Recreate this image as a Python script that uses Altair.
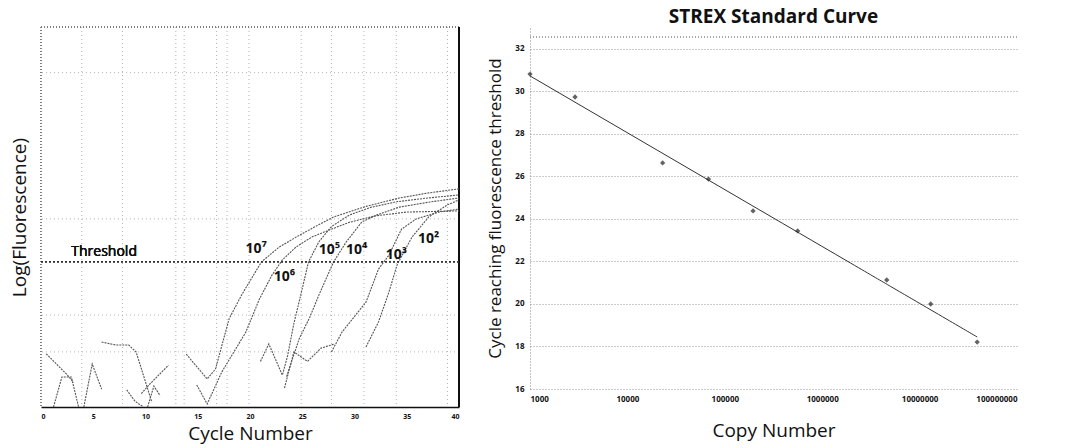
import altair as alt
import pandas as pd

FONT = "Open Sans"

# ---------------- Left panel: amplification curves ----------------
CYCLE_TICKS = [0, 5, 10, 15, 20, 25, 30, 35, 40]
THRESHOLD = 38.2

c7_cyc = [13.9, 15.9, 16.7, 18.0, 19.2, 21.1, 22.8, 24.4, 26.6, 28.0, 31.1, 34.3, 37.0, 40.0]
c7_val = [13.9, 7.4, 10.0, 23.2, 29.5, 38.2, 42.1, 44.7, 48.0, 50.0, 52.8, 55.0, 56.3, 57.4]
c6_cyc = [14.9, 15.9, 17.3, 19.6, 20.9, 22.1, 23.1, 24.4, 25.9, 27.6, 29.5, 32.0, 35.0, 40.0]
c6_val = [5.8, 0.8, 9.2, 19.7, 28.4, 34.7, 38.7, 42.1, 44.7, 46.6, 48.6, 50.3, 51.3, 51.6]
c5_cyc = [21.0, 21.8, 23.1, 23.6, 24.2, 24.9, 25.6, 26.6, 27.8, 29.5, 31.5, 34.0, 37.0, 40.0]
c5_val = [12.0, 16.6, 8.4, 13.5, 22.0, 30.0, 38.2, 43.5, 47.5, 50.5, 52.5, 54.0, 55.0, 55.8]
c4_cyc = [23.5, 24.7, 25.7, 26.6, 28.0, 29.2, 30.7, 32.1, 34.3, 37.1, 40.0]
c4_val = [8.0, 17.9, 23.5, 29.5, 38.2, 43.4, 48.7, 50.5, 52.6, 53.9, 55.0]
c3_cyc = [27.8, 28.8, 31.1, 32.3, 33.3, 34.5, 35.9, 38.1, 40.0]
c3_val = [14.5, 19.7, 27.6, 36.3, 40.0, 46.8, 49.5, 51.3, 52.1]
c2_cyc = [31.1, 32.3, 33.3, 34.1, 35.5, 37.1, 38.9, 40.0]
c2_val = [15.8, 22.4, 30.3, 37.6, 44.7, 50.0, 53.2, 54.5]

# baseline noise traces
n1_cyc = [1.2, 2.0, 2.9, 3.6]
n1_val = [0.0, 7.9, 7.9, 0.0]
n2_cyc = [4.1, 4.9, 5.8]
n2_val = [0.0, 11.3, 4.7]
n3_cyc = [0.5, 2.5, 3.1]
n3_val = [14.0, 8.5, 6.5]
n4_cyc = [5.8, 7.2, 8.4, 9.1, 10.0, 10.6]
n4_val = [17.1, 16.3, 16.3, 14.5, 6.6, 1.3]
n5_cyc = [9.6, 10.4, 11.3, 12.2]
n5_val = [3.5, 6.0, 8.5, 11.0]
n6_cyc = [8.2, 9.0, 9.8]
n6_val = [4.5, 1.5, 0.0]
n7_cyc = [10.2, 10.8, 11.4]
n7_val = [0.0, 5.5, 3.0]
n8_cyc = [23.3, 24.2, 25.5, 26.8, 28.0]
n8_val = [5.0, 14.5, 12.0, 15.5, 16.5]

GRID_CYCLES = [3.9, 7.8, 12.9, 13.7, 16.8, 17.8, 19.9, 24.9, 27.8, 30.9, 34.0, 38.9]
GRID_LEVELS = [88.0, 49.5, 24.2, 14.5]

LABEL_TEXT = ["10\u2077", "10\u2076", "10\u2075", "10\u2074", "10\u00b3", "10\u00b2"]
LABEL_CYC = [20.6, 23.3, 27.6, 30.2, 34.0, 37.1]
LABEL_VAL = [41.6, 34.2, 41.3, 41.3, 40.0, 44.2]

# ---------------- Right panel: standard curve ----------------
COPIES = [1000, 2900, 23000, 68000, 195000, 560000, 4600000, 13000000, 39000000]
CT = [30.82, 29.74, 26.64, 25.88, 24.38, 23.44, 21.13, 20.00, 18.21]
COPY_TICKS = [1000, 10000, 100000, 1000000, 10000000, 100000000]
CT_TICKS = [16, 18, 20, 22, 24, 26, 28, 30, 32]
CT_TOP_FRAME = 32.56

# ---------------- build tables ----------------
series = {
    "c7": (c7_cyc, c7_val), "c6": (c6_cyc, c6_val), "c5": (c5_cyc, c5_val),
    "c4": (c4_cyc, c4_val), "c3": (c3_cyc, c3_val), "c2": (c2_cyc, c2_val),
    "n1": (n1_cyc, n1_val), "n2": (n2_cyc, n2_val), "n3": (n3_cyc, n3_val),
    "n4": (n4_cyc, n4_val), "n5": (n5_cyc, n5_val), "n6": (n6_cyc, n6_val),
    "n7": (n7_cyc, n7_val), "n8": (n8_cyc, n8_val),
}
rows = []
for name, (xs, ys) in series.items():
    for i, (x, y) in enumerate(zip(xs, ys)):
        rows.append({"curve": name, "idx": i, "cycle": x, "logf": y})
curves_df = pd.DataFrame(rows)
labels_df = pd.DataFrame({"cycle": LABEL_CYC, "logf": LABEL_VAL, "text": LABEL_TEXT})
vgrid_df = pd.DataFrame({"cycle": GRID_CYCLES})
hgrid_df = pd.DataFrame({"logf": GRID_LEVELS})
std_df = pd.DataFrame({"copies": COPIES, "ct": CT})

xs_left = alt.Scale(domain=[0, 40], nice=False, zero=False)
ys_left = alt.Scale(domain=[0, 100], nice=False)

x_left = alt.X("cycle:Q", scale=xs_left,
               axis=alt.Axis(values=CYCLE_TICKS, title="Cycle Number", grid=False,
                             ticks=False, domain=True, domainColor="#111", domainWidth=1.5,
                             labelFontSize=7, labelFontWeight="bold", labelColor="#111",
                             labelPadding=5, titleFontSize=19, titleFontWeight="normal",
                             titleColor="#111", titlePadding=5, labelFont=FONT, titleFont=FONT))
y_left = alt.Y("logf:Q", scale=ys_left,
               axis=alt.Axis(labels=False, ticks=False, domain=False, grid=False,
                             title="Log(Fluorescence)", titleFontSize=19,
                             titleFontWeight="normal", titleColor="#111",
                             titlePadding=12, titleFont=FONT))

vgrid = alt.Chart(vgrid_df).mark_rule(color="#b5b5b5", strokeDash=[1, 3], strokeWidth=1).encode(
    x=alt.X("cycle:Q", scale=xs_left))
hgrid = alt.Chart(hgrid_df).mark_rule(color="#b5b5b5", strokeDash=[1, 3], strokeWidth=1).encode(
    y=alt.Y("logf:Q", scale=ys_left))
top_border = alt.Chart(hgrid_df).mark_rule(color="#777", strokeDash=[1, 2]).encode(y=alt.datum(100))
left_border = alt.Chart(hgrid_df).mark_rule(color="#777", strokeDash=[1, 2]).encode(x=alt.datum(0))
right_border = alt.Chart(hgrid_df).mark_rule(color="#111", strokeWidth=1.5).encode(x=alt.datum(40))

lines = alt.Chart(curves_df).mark_line(color="#555", strokeWidth=1.1, strokeDash=[2, 1]).encode(
    x=x_left, y=y_left, detail="curve:N", order="idx:Q")
thresh = alt.Chart(hgrid_df).mark_rule(color="#333", strokeDash=[2, 2], strokeWidth=1).encode(
    y=alt.datum(THRESHOLD))
thresh_text = alt.Chart(hgrid_df).mark_text(text="Threshold", align="left", baseline="bottom",
                                            fontSize=14, font=FONT, color="#111").encode(
    x=alt.datum(2.9), y=alt.datum(39.0))
curve_labels = alt.Chart(labels_df).mark_text(fontSize=14, font=FONT, color="#111",
                                              fontWeight="bold").encode(
    x="cycle:Q", y="logf:Q", text="text:N")

left = alt.layer(vgrid, hgrid, top_border, left_border, right_border, lines, thresh,
                 thresh_text, curve_labels).properties(width=418, height=380)

# right
xs_right = alt.Scale(type="log", domain=[1000, 100000000], nice=False)
ys_right = alt.Scale(domain=[16, 33.035], nice=False, zero=False)
x_right = alt.X("copies:Q", scale=xs_right,
                axis=alt.Axis(values=COPY_TICKS, format="d", grid=False, ticks=False,
                              domain=False, title="Copy Number", labelFontSize=8,
                              labelFontWeight="bold", labelColor="#111", labelPadding=6,
                              titleFontSize=19, titleFontWeight="normal", titleColor="#111",
                              titlePadding=18, labelFont=FONT, titleFont=FONT))
y_right = alt.Y("ct:Q", scale=ys_right,
                axis=alt.Axis(values=CT_TICKS, grid=True, gridColor="#999",
                              gridDash=[1, 2], ticks=False, domain=True, domainColor="#888",
                              domainDash=[1, 2], title="Cycle reaching fluorescence threshold",
                              labelFontSize=8, labelFontWeight="bold", labelColor="#111",
                              labelPadding=6, titleFontSize=17, titleFontWeight="normal",
                              titleColor="#111", titlePadding=10, labelFont=FONT,
                              titleFont=FONT))

frame_top = alt.Chart(std_df).mark_rule(color="#aaa", strokeDash=[1, 2]).encode(
    y=alt.datum(CT_TOP_FRAME))
pts = alt.Chart(std_df).mark_point(shape="diamond", filled=True, color="#222", size=28).encode(
    x=x_right, y=y_right)
reg = alt.Chart(std_df).transform_regression("copies", "ct", method="log").mark_line(
    color="#333", strokeWidth=1).encode(x=alt.X("copies:Q", scale=xs_right),
                                         y=alt.Y("ct:Q", scale=ys_right))

right = alt.layer(frame_top, reg, pts).properties(
    width=487, height=362,
    title=alt.Title("STREX Standard Curve", fontSize=19, fontWeight="bold", font=FONT,
                    color="#111", offset=0, anchor="middle"))

chart = alt.hconcat(left, right, spacing=24).properties(
    padding={"left": 10, "top": 8, "right": 0, "bottom": 6},
    background="white").configure_view(stroke=None)

chart.save("out.html", embed_options={"renderer": "svg", "actions": False})
